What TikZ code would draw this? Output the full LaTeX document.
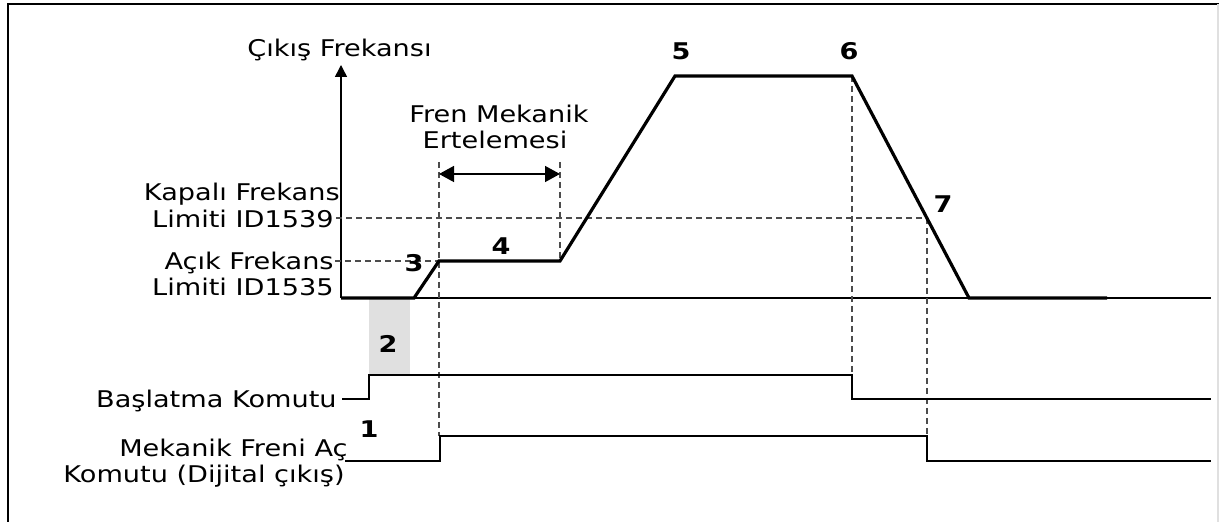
\documentclass[tikz,border=0pt]{standalone}
\usepackage{fontspec}
\setmainfont{DejaVu Sans}[FakeStretch=1.18]
\usetikzlibrary{arrows.meta,positioning,calc}

\begin{document}
\begin{tikzpicture}[x=0.5pt,y=-0.5pt,
  lbl/.style={font=\fontsize{11.5}{13.5}\selectfont,inner sep=0pt},
  num/.style={font=\fontsize{11.5}{13.5}\selectfont\bfseries,inner sep=0pt,anchor=base},
  guide/.style={dash pattern=on 3pt off 2pt,black!70,line width=0.7pt},
  sig/.style={line width=0.75pt},
  curve/.style={line width=1.6pt,line join=miter}]
  \useasboundingbox (0,0) rectangle (1219,522);
  % frame
  \draw[line width=0.8pt] (8,522) -- (8,4) -- (1219,4);
  \draw[black!12,line width=0.6pt] (1218,4) -- (1218,522);

  % points of the frequency curve
  \coordinate (o) at (341,298);
  \coordinate (top) at (341,65);
  \coordinate (p2) at (414,298);
  \coordinate (p3) at (439,261);
  \coordinate (p4) at (560,261);
  \coordinate (p5) at (675,76);
  \coordinate (p6) at (852,76);
  \coordinate (p7) at (927,218);
  \coordinate (p8) at (969,298);
  \coordinate (pe) at (1107,298);
  \coordinate (xe) at (1211,298);

  \fill[black!12] (369,298) rectangle (410,375);
  \draw[sig,-{Triangle[length=6pt,width=6pt]}] (o) -- (top);
  \draw[sig] (o) -- (xe);

  % limits and delays
  \draw[guide] (336,218) -- (p7);
  \draw[guide] (335,261) -- (p3);
  \draw[guide] (439,162) -- (439,436);
  \draw[guide] (560,162) -- (p4);
  \draw[guide] (p6) -- (852,375);
  \draw[guide] (p7) -- (927,436);
  \coordinate (d1) at (439,174);
  \coordinate (d2) at (560,174);
  \draw[sig,{Triangle[length=7.5pt,width=8pt]}-{Triangle[length=7.5pt,width=8pt]}] (d1) -- (d2);

  \draw[curve] (o) -- (p2) -- (p3) -- (p4) -- (p5) -- (p6) -- (p8) -- (pe);

  % command signals
  \draw[sig] (342,399) -- (369,399) -- (369,375) -- (852,375) -- (852,399) -- (1211,399);
  \draw[sig] (345,461) -- (440,461) -- (440,436) -- (927,436) -- (927,461) -- (1211,461);

  % texts
  \node[lbl,anchor=base west] (cikis) at (247,57) {Çıkış Frekansı};
  \node[lbl,anchor=base east] (kap1) at (340,201) {Kapalı Frekans};
  \node[lbl,anchor=base east] (kap2) at (334,228) {Limiti ID1539};
  \node[lbl,anchor=base east] (acik1) at (334,270) {Açık Frekans};
  \node[lbl,anchor=base east] (acik2) at (334,296) {Limiti ID1535};
  \node[lbl,anchor=base] (fren1) at (499,123) {Fren Mekanik};
  \node[lbl,anchor=base] (fren2) at (495,149) {Ertelemesi};
  \node[lbl,anchor=base east] (basla) at (337,408) {Başlatma Komutu};
  \node[lbl,anchor=base east] (mek1) at (348,457) {Mekanik Freni Aç};
  \node[lbl,anchor=base east] (mek2) at (345,483) {Komutu (Dijital çıkış)};

  \node[num] (n1) at (369,438) {1};
  \node[num] (n2) at (388,353) {2};
  \node[num] (n3) at (414,272) {3};
  \node[num] (n4) at (501,255) {4};
  \node[num] (n5) at (681,60) {5};
  \node[num] (n6) at (849,60) {6};
  \node[num] (n7) at (943,213) {7};
\end{tikzpicture}
\end{document}
